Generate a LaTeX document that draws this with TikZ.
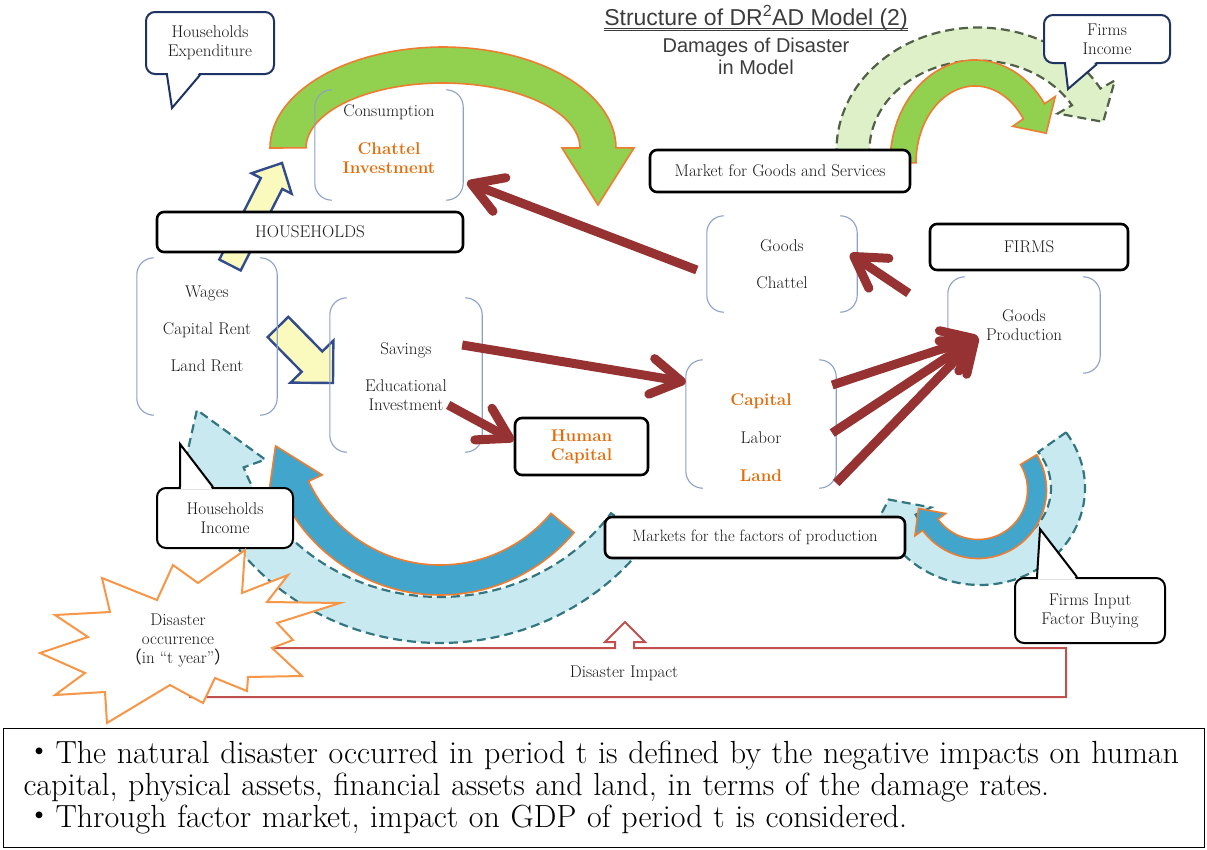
\documentclass[tikz,border=0pt]{standalone}
\usepackage{fontspec}
\newfontfamily\cjk{Noto Sans CJK JP}
\newfontfamily\titlefont{Liberation Sans}
\usetikzlibrary{positioning,arrows.meta}

\definecolor{flowgreen}{RGB}{146,208,80}
\definecolor{floworange}{RGB}{237,125,49}
\definecolor{flowblue}{RGB}{66,165,204}
\definecolor{paleblue}{RGB}{200,233,240}
\definecolor{dashblue}{RGB}{52,118,128}
\definecolor{palegreen}{RGB}{222,240,200}
\definecolor{dashgreen}{RGB}{82,96,72}
\definecolor{darkred}{RGB}{150,50,50}
\definecolor{calloutnavy}{RGB}{31,50,100}
\definecolor{paleyellow}{RGB}{250,250,190}
\definecolor{yellowedge}{RGB}{50,75,140}
\definecolor{bracketblue}{RGB}{140,160,200}
\definecolor{impactred}{RGB}{192,80,77}
\definecolor{burstorange}{RGB}{247,150,70}
\definecolor{textorange}{RGB}{228,108,10}
\definecolor{titlegray}{RGB}{60,60,60}

\newcommand{\orangebf}[1]{\textcolor{textorange}{\bfseries #1}}

% curved band with arrow head: [style]{cx}{cy}{rx}{ry}{half width}{start}{end}{head length}
\newcommand{\bandarrow}[9][]{%
  \pgfmathsetmacro{\bandux}{-(#4)*sin(#8)*sign(#8-#7)}%
  \pgfmathsetmacro{\banduy}{(#5)*cos(#8)*sign(#8-#7)}%
  \pgfmathsetmacro{\bandul}{veclen(\bandux,\banduy)}%
  \filldraw[#1]
    plot[domain=0:1, samples=60, variable=\t] ({#2+(#4+#6)*cos(#7+(#8-#7)*\t)}, {#3+(#5+#6)*sin(#7+(#8-#7)*\t)})
    -- ({#2+(#4+2*#6)*cos(#8)}, {#3+(#5+2*#6)*sin(#8)})
    -- ({#2+#4*cos(#8)+#9*\bandux/\bandul}, {#3+#5*sin(#8)+#9*\banduy/\bandul})
    -- ({#2+(#4-2*#6)*cos(#8)}, {#3+(#5-2*#6)*sin(#8)})
    -- plot[domain=0:1, samples=60, variable=\t] ({#2+(#4-#6)*cos(#8+(#7-#8)*\t)}, {#3+(#5-#6)*sin(#8+(#7-#8)*\t)})
    -- cycle;}

% straight block arrow: [style]{x1}{y1}{x2}{y2}{shaft half width}{head half width}{head length}
\newcommand{\blockarrow}[8][]{%
  \pgfmathsetmacro{\blockang}{atan2(-(#5-#3),#4-#2)}%
  \pgfmathsetmacro{\blocklen}{veclen(#4-#2,#5-#3)}%
  \filldraw[#1, shift={(#2,#3)}, rotate=\blockang] (0,-#6) -- (\blocklen-#8,-#6) -- (\blocklen-#8,-#7) -- (\blocklen,0) -- (\blocklen-#8,#7) -- (\blocklen-#8,#6) -- (0,#6) -- cycle;}

% round brackets left and right of a node
\newcommand{\brackets}[1]{%
  \draw[bracketline] ([xshift=17]#1.north west) -- (#1.north west) -- (#1.south west) -- ([xshift=17]#1.south west);
  \draw[bracketline] ([xshift=-17]#1.north east) -- (#1.north east) -- (#1.south east) -- ([xshift=-17]#1.south east);}

\begin{document}
\begin{tikzpicture}[x=1pt, y=-1pt,
    boxtext/.style={font=\fontsize{17}{19}\selectfont, text=black!90, align=center, inner sep=0},
    brackbox/.style={inner sep=0},
    bracketline/.style={draw=bracketblue, line width=1.1, rounded corners=17},
    sectorbox/.style={draw=black, line width=2.6, rounded corners=7, fill=white, inner sep=0, text=black!90, font=\fontsize{17}{19}\selectfont},
    bubble/.style={draw=calloutnavy, line width=2, rounded corners=9, fill=white, inner sep=0, align=center, text=black!90, font=\fontsize{17}{19}\selectfont},
    bubbletail/.style={draw=calloutnavy, line width=2},
    greenflow/.style={fill=flowgreen, draw=floworange, line width=1.6},
    blueflow/.style={fill=flowblue, draw=floworange, line width=1.6},
    greenshadow/.style={fill=palegreen, draw=dashgreen, line width=2.2, dash pattern=on 9pt off 5pt},
    blueshadow/.style={fill=paleblue, draw=dashblue, line width=2.2, dash pattern=on 9pt off 5pt},
    yarrow/.style={draw=yellowedge, fill=paleyellow, line width=2.4, line join=miter},
    redarrow/.style={draw=darkred, line width=9, -{Straight Barb[length=30pt, width=36pt, round]}},
    impact/.style={draw=impactred, line width=2, fill=white},
    burst/.style={draw=burstorange, line width=2, fill=white},
    notebox/.style={draw=black, line width=1, inner xsep=13, text width=1175, minimum height=119, align=left, font=\fontsize{32}{32}\selectfont}
  ]
  \useasboundingbox (0,0) rectangle (1207,849);

  % Titel
  \node[font=\titlefont\fontsize{23}{26}\selectfont, text=titlegray, inner sep=0] (title) at (756,18) {Structure of DR\textsuperscript{2}AD Model (2)};
  \draw[titlegray, line width=0.8] ([yshift=-2.5pt]title.base west) -- ([yshift=-2.5pt]title.base east);
  \draw[titlegray, line width=0.8] ([yshift=-5pt]title.base west) -- ([yshift=-5pt]title.base east);
  \node[font=\titlefont\fontsize{20}{22}\selectfont, text=titlegray, align=center, inner sep=0, below=7pt of title] (sub) {Damages of Disaster\\in Model};

  % Baender
  \bandarrow[greenshadow]{978}{150}{125}{106}{16.5}{170}{330}{30}
  \bandarrow[blueshadow]{440}{400}{232}{220}{23}{35}{160}{70}
  \bandarrow[blueshadow]{980}{488}{88}{80}{17}{325}{515}{25}
  \bandarrow[greenflow]{443}{148}{155}{83}{18}{180}{360}{57}
  \bandarrow[greenflow]{975}{163}{72}{90}{13}{180}{325}{25}
  \bandarrow[blueflow]{440}{420}{160}{160}{15}{40}{155}{46}
  \bandarrow[blueflow]{978}{490}{59}{59}{9.5}{329}{504}{20}

  % Blockpfeile
  \blockarrow[yarrow]{230}{265}{282}{163}{12}{22.5}{23}
  \blockarrow[yarrow]{278}{327}{333}{383}{14.5}{30}{30}

  % Knoten
  \node[brackbox, minimum width=148, minimum height=110] (cons) at (389,145) {};
  \node[brackbox, minimum width=140, minimum height=157] (wages) at (207,336.5) {};
  \node[brackbox, minimum width=152, minimum height=154] (sav) at (406,375) {};
  \node[brackbox, minimum width=150, minimum height=96] (goods) at (782,264) {};
  \node[brackbox, minimum width=150, minimum height=128] (cap) at (761,424) {};
  \node[brackbox, minimum width=152, minimum height=96] (prod) at (1024,325) {};
  \brackets{cons}
  \brackets{wages}
  \brackets{sav}
  \brackets{goods}
  \brackets{cap}
  \brackets{prod}

  \node[boxtext] (cons-t) at ([yshift=6]cons.center) {Consumption\\[19pt]\orangebf{Chattel}\\\orangebf{Investment}};
  \node[boxtext] (wages-t) at ([yshift=8]wages.center) {Wages\\[18pt]Capital Rent\\[18pt]Land Rent};
  \node[boxtext] (sav-t) at ([yshift=-2]sav.center) {Savings\\[18pt]Educational\\Investment};
  \node[boxtext] (goods-t) at (goods.center) {Goods\\[18pt]Chattel};
  \node[boxtext] (cap-t) at ([yshift=-14]cap.center) {\orangebf{Capital}\\[19pt]Labor\\[19pt]\orangebf{Land}};
  \node[boxtext] (prod-t) at (prod.center) {Goods\\Production};

  \node[sectorbox, minimum width=306, minimum height=40] (hh) at (310,232) {HOUSEHOLDS};
  \node[sectorbox, minimum width=260, minimum height=42] (mgs) at (780,171) {Market for Goods and Services};
  \node[sectorbox, minimum width=198, minimum height=46] (firms) at (1029,247) {FIRMS};
  \node[sectorbox, minimum width=300, minimum height=41, font=\fontsize{16.5}{19}\selectfont] (mfp) at (755,537.5) {Markets for the factors of production};
  \node[sectorbox, minimum width=133, minimum height=57, align=center] (humcap) at (581.5,446.5) {\orangebf{Human}\\\orangebf{Capital}};

  % Sprechblasen
  \node[bubble, minimum width=128, minimum height=62] (hexp) at (210,43) {Households\\Expenditure};
  \fill[white] ([xshift=-42,yshift=2]hexp.south) -- ([xshift=-38,yshift=-33]hexp.south) -- ([xshift=-11,yshift=2]hexp.south) -- cycle;
  \draw[bubbletail] ([xshift=-43]hexp.south) -- ([xshift=-38,yshift=-33]hexp.south) -- ([xshift=-10]hexp.south);

  \node[bubble, minimum width=126, minimum height=48] (finc) at (1107,39) {Firms\\Income};
  \fill[white] ([xshift=-41,yshift=2]finc.south) -- ([xshift=-39,yshift=-25]finc.south) -- ([xshift=-11,yshift=2]finc.south) -- cycle;
  \draw[bubbletail] ([xshift=-42]finc.south) -- ([xshift=-39,yshift=-25]finc.south) -- ([xshift=-10]finc.south);

  \node[bubble, draw=black, minimum width=136, minimum height=60] (hinc) at (225,518) {Households\\Income};
  \fill[white] ([xshift=-44,yshift=-2]hinc.north) -- ([xshift=-45,yshift=43]hinc.north) -- ([xshift=-13,yshift=-2]hinc.north) -- cycle;
  \draw[bubbletail, draw=black] ([xshift=-45]hinc.north) -- ([xshift=-45,yshift=43]hinc.north) -- ([xshift=-12]hinc.north);

  \node[bubble, draw=black, minimum width=150, minimum height=65] (fibuy) at (1090,610.5) {Firms Input\\Factor Buying};
  \fill[white] ([xshift=-52,yshift=-2]fibuy.north) -- ([xshift=-50,yshift=48]fibuy.north) -- ([xshift=-14,yshift=-2]fibuy.north) -- cycle;
  \draw[bubbletail, draw=black] ([xshift=-53]fibuy.north) -- ([xshift=-50,yshift=48]fibuy.north) -- ([xshift=-13]fibuy.north);

  % Katastrophe
  \draw[impact] (190,648) -- (615,648) -- (615,642) -- (605,642) -- (625,622) -- (645,642) -- (634,642) -- (634,648) -- (1066,648) -- (1066,697) -- (190,697) -- cycle;
  \node[boxtext] (impact-t) at (624,673) {Disaster Impact};
  \draw[burst] (173,565) -- (198,583) -- (245,550) -- (242,593) -- (288,575) -- (267,602) -- (340,603) -- (277,623) -- (293,640) -- (272,648) -- (302,676) -- (248,677) -- (247,691) -- (215,678) -- (203,703) -- (170,685) -- (107,723) -- (105,692) -- (55,695) -- (85,673) -- (40,653) -- (88,637) -- (55,615) -- (110,612) -- (102,578) -- (157,600) -- cycle;
  \node[boxtext] (burst-t) at (178,640) {Disaster\\occurrence\\{\cjk （}in ``t year''{\cjk ）}};

  % Kanten zwischen Knoten
  \draw[redarrow] ([xshift=-10,yshift=-6]goods.west) -- ([xshift=4,yshift=18]cons.south east);
  \draw[redarrow] ([xshift=-20,yshift=-22]firms.south west) -- ([xshift=-7,yshift=10]goods.east);
  \draw[redarrow] ([xshift=-20,yshift=30]sav.east) -- ([yshift=42]cap.west);
  \draw[redarrow] ([xshift=-34,yshift=-30]sav.east) -- ([yshift=6]humcap.west);
  \draw[redarrow] ([xshift=-4,yshift=39]cap.east) -- ([xshift=30,yshift=-12]prod.west);
  \draw[redarrow] ([xshift=-4,yshift=-9]cap.east) -- ([xshift=30,yshift=-12]prod.west);
  \draw[redarrow] ([yshift=-59]cap.east) -- ([xshift=30,yshift=-12]prod.west);

  % Anmerkung
  \node[notebox, anchor=north west] (note) at (3,728) {\hspace*{7pt}{\cjk ・}The natural disaster occurred in period t is defined by the negative impacts on human\\\hspace*{7pt}capital, physical assets, financial assets and land, in terms of the damage rates.\\\hspace*{7pt}{\cjk ・}Through factor market, impact on GDP of period t is considered.};
\end{tikzpicture}
\end{document}
